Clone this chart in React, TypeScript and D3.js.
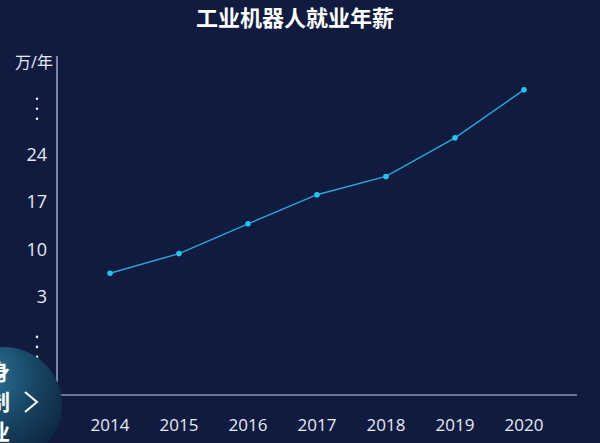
import React from "react";
import * as d3 from "d3";

const title = "工业机器人就业年薪";
const unitLabel = "万/年";
const years = ["2014", "2015", "2016", "2017", "2018", "2019", "2020"];
const salaries = [6.5, 9.4, 13.8, 18.1, 20.8, 26.5, 33.6];
const yTicks = [3, 10, 17, 24];
const sideChars = ["身", "制", "业"];

const W = 600;
const H = 443;
const BG = "#101b3f";
const FONT = "'Open Sans', 'Noto Sans CJK SC', sans-serif";

export default function App() {
  const x = d3.scalePoint<string>().domain(years).range([110, 524]);
  const y = d3.scaleLinear().domain([-11.5, 38.6]).range([395, 56]);
  const line = d3
    .line<number>()
    .x((_, i) => x(years[i]) as number)
    .y((d) => y(d));

  const dotsTop = [y(24) - 56, y(24) - 46, y(24) - 36];
  const dotsBottom = [y(3) + 40, y(3) + 50, y(3) + 60];

  return (
    <svg
      width={W}
      height={H}
      style={{ position: "absolute", left: 0, top: 0, display: "block" }}
    >
      <defs>
        <radialGradient id="ball" cx="35%" cy="25%" r="80%">
          <stop offset="0%" stopColor="#2a7597" />
          <stop offset="60%" stopColor="#16405e" />
          <stop offset="100%" stopColor="#0e2540" />
        </radialGradient>
      </defs>
      <rect x={0} y={0} width={W} height={H} fill={BG} />
      <text
        x={295}
        y={26}
        textAnchor="middle"
        fill="#ffffff"
        fontSize={22}
        fontWeight="bold"
        fontFamily={FONT}
      >
        {title}
      </text>

      {/* y axis */}
      <line x1={57} x2={57} y1={56} y2={382} stroke="#c9d1ea" strokeWidth={1.2} />
      <text x={34} y={68} textAnchor="middle" fill="#e6eaf4" fontSize={16} fontFamily={FONT}>
        {unitLabel}
      </text>
      {yTicks.map((t) => (
        <text
          key={t}
          x={47}
          y={y(t)}
          dy="0.35em"
          textAnchor="end"
          fill="#e6eaf4"
          fontSize={18}
          fontFamily={FONT}
        >
          {t}
        </text>
      ))}
      {[...dotsTop, ...dotsBottom].map((d, i) => (
        <circle key={i} cx={37} cy={d} r={1.3} fill="#e6eaf4" />
      ))}

      {/* x axis */}
      <line x1={61} x2={577} y1={395} y2={395} stroke="#c9d1ea" strokeWidth={1.2} />
      {years.map((yr) => (
        <text
          key={yr}
          x={x(yr)}
          y={425}
          dy="0.35em"
          textAnchor="middle"
          fill="#e6eaf4"
          fontSize={17}
          fontFamily={FONT}
        >
          {yr}
        </text>
      ))}

      {/* line */}
      <path d={line(salaries) || ""} fill="none" stroke="#27a9d6" strokeWidth={1.4} />
      {salaries.map((v, i) => (
        <circle key={i} cx={x(years[i])} cy={y(v)} r={2.8} fill="#22c3ee" />
      ))}

      {/* overlay widget */}
      <circle cx={4} cy={405} r={58} fill="url(#ball)" />
      <g fill="#ffffff" fontSize={22} fontWeight="bold" fontFamily={FONT}>
        {sideChars.map((c, i) => (
          <text key={c} x={-12} y={380 + i * 30}>
            {c}
          </text>
        ))}
      </g>
      <path d="M25,392 L37,402 L25,412" fill="none" stroke="#ffffff" strokeWidth={2} />
    </svg>
  );
}
